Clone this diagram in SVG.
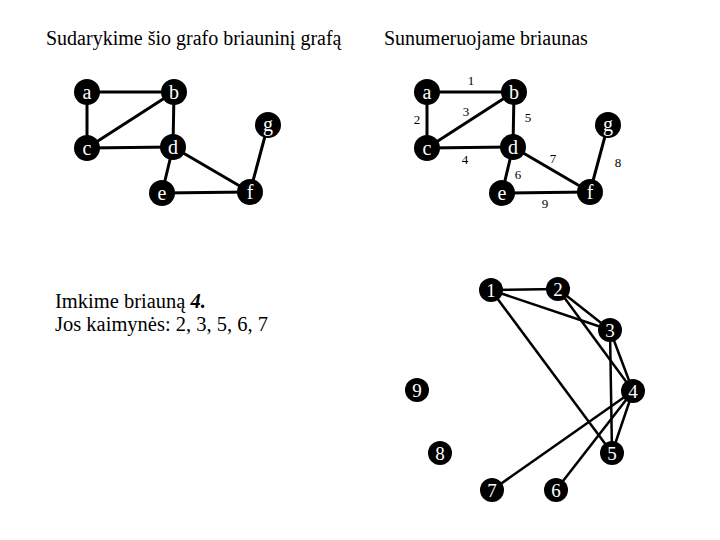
<svg xmlns="http://www.w3.org/2000/svg" width="720" height="540" viewBox="0 0 720 540" font-family="'Liberation Serif','DejaVu Serif','Times New Roman',serif">
<style>
text{font-family:'Liberation Serif','DejaVu Serif','Times New Roman',serif;}
.t{font-size:20px;fill:#000;}
.e{stroke:#000;stroke-width:3;fill:none;stroke-linecap:round;}
.le{stroke:#000;stroke-width:2.5;fill:none;}
.n{fill:#000;}
.nl{font-size:20px;fill:#fff;text-anchor:middle;}
.ll{font-size:19px;fill:#fff;text-anchor:middle;}
.el{font-size:13px;fill:#000;text-anchor:middle;}
</style>
<rect width="720" height="540" fill="#fff"/>
<text class="t" x="46" y="45">Sudarykime šio grafo briauninį grafą</text>
<text class="t" x="384" y="45">Sunumeruojame briaunas</text>
<text class="t" x="55" y="308" style="font-size:20.5px">Imkime briauną <tspan font-weight="bold" font-style="italic">4.</tspan></text>
<text class="t" x="55" y="331" style="font-size:20.5px">Jos kaimynės: 2, 3, 5, 6, 7</text>

<g id="connectors">
<g id="left-edges">
<line class="e" x1="87" y1="92" x2="174" y2="92"/>
<line class="e" x1="87" y1="92" x2="87" y2="148"/>
<line class="e" x1="174" y1="92" x2="87" y2="148"/>
<line class="e" x1="174" y1="92" x2="173" y2="147"/>
<line class="e" x1="87" y1="148" x2="173" y2="147"/>
<line class="e" x1="173" y1="147" x2="162" y2="193"/>
<line class="e" x1="173" y1="147" x2="250" y2="192"/>
<line class="e" x1="162" y1="193" x2="250" y2="192"/>
<line class="e" x1="250" y1="192" x2="268" y2="125"/>
</g>
<g id="right-edges">
<line class="e" x1="427" y1="92" x2="514" y2="92"/>
<line class="e" x1="427" y1="92" x2="427" y2="148"/>
<line class="e" x1="514" y1="92" x2="427" y2="148"/>
<line class="e" x1="514" y1="92" x2="513" y2="147"/>
<line class="e" x1="427" y1="148" x2="513" y2="147"/>
<line class="e" x1="513" y1="147" x2="502" y2="193"/>
<line class="e" x1="513" y1="147" x2="590" y2="192"/>
<line class="e" x1="502" y1="193" x2="590" y2="192"/>
<line class="e" x1="590" y1="192" x2="608" y2="125"/>
</g>
<g id="line-graph-edges">
<line class="le" x1="491" y1="290" x2="558" y2="289"/>
<line class="le" x1="491" y1="290" x2="610" y2="330"/>
<line class="le" x1="491" y1="290" x2="612" y2="453"/>
<line class="le" x1="558" y1="289" x2="610" y2="330"/>
<line class="le" x1="558" y1="289" x2="633" y2="391"/>
<line class="le" x1="610" y1="330" x2="633" y2="391"/>
<line class="le" x1="610" y1="330" x2="612" y2="453"/>
<line class="le" x1="633" y1="391" x2="612" y2="453"/>
<line class="le" x1="633" y1="391" x2="492" y2="490"/>
<line class="le" x1="633" y1="391" x2="556" y2="490"/>
</g>
</g>

<g id="edge-labels">
<text class="el" x="471" y="85">1</text>
<text class="el" x="417" y="124">2</text>
<text class="el" x="466" y="116">3</text>
<text class="el" x="465" y="164">4</text>
<text class="el" x="528" y="122">5</text>
<text class="el" x="518" y="179">6</text>
<text class="el" x="553" y="163">7</text>
<text class="el" x="618" y="167">8</text>
<text class="el" x="545" y="208">9</text>
</g>

<g id="L-a"><circle class="n" cx="87" cy="92" r="13"/><text class="nl" x="87" y="99">a</text></g>
<g id="L-b"><circle class="n" cx="174" cy="92" r="13"/><text class="nl" x="174" y="99">b</text></g>
<g id="L-g"><circle class="n" cx="268" cy="125" r="13"/><text class="nl" x="268" y="131">g</text></g>
<g id="L-c"><circle class="n" cx="87" cy="148" r="13"/><text class="nl" x="87" y="155">c</text></g>
<g id="L-d"><circle class="n" cx="173" cy="147" r="13"/><text class="nl" x="173" y="154">d</text></g>
<g id="L-e"><circle class="n" cx="162" cy="193" r="13"/><text class="nl" x="162" y="200">e</text></g>
<g id="L-f"><circle class="n" cx="250" cy="192" r="13"/><text class="nl" x="250" y="199">f</text></g>

<g id="R-a"><circle class="n" cx="427" cy="92" r="13"/><text class="nl" x="427" y="99">a</text></g>
<g id="R-b"><circle class="n" cx="514" cy="92" r="13"/><text class="nl" x="514" y="99">b</text></g>
<g id="R-g"><circle class="n" cx="608" cy="125" r="13"/><text class="nl" x="608" y="131">g</text></g>
<g id="R-c"><circle class="n" cx="427" cy="148" r="13"/><text class="nl" x="427" y="155">c</text></g>
<g id="R-d"><circle class="n" cx="513" cy="147" r="13"/><text class="nl" x="513" y="154">d</text></g>
<g id="R-e"><circle class="n" cx="502" cy="193" r="13"/><text class="nl" x="502" y="200">e</text></g>
<g id="R-f"><circle class="n" cx="590" cy="192" r="13"/><text class="nl" x="590" y="199">f</text></g>

<g id="N1"><circle class="n" cx="491" cy="290" r="12"/><text class="ll" x="491" y="297">1</text></g>
<g id="N2"><circle class="n" cx="558" cy="289" r="12"/><text class="ll" x="558" y="296">2</text></g>
<g id="N3"><circle class="n" cx="610" cy="330" r="12"/><text class="ll" x="610" y="337">3</text></g>
<g id="N4"><circle class="n" cx="633" cy="391" r="12"/><text class="ll" x="633" y="398">4</text></g>
<g id="N5"><circle class="n" cx="612" cy="453" r="12"/><text class="ll" x="612" y="460">5</text></g>
<g id="N6"><circle class="n" cx="556" cy="490" r="12"/><text class="ll" x="556" y="497">6</text></g>
<g id="N7"><circle class="n" cx="492" cy="490" r="12"/><text class="ll" x="492" y="497">7</text></g>
<g id="N8"><circle class="n" cx="440" cy="453" r="12"/><text class="ll" x="440" y="460">8</text></g>
<g id="N9"><circle class="n" cx="417" cy="390" r="12"/><text class="ll" x="417" y="397">9</text></g>
</svg>
